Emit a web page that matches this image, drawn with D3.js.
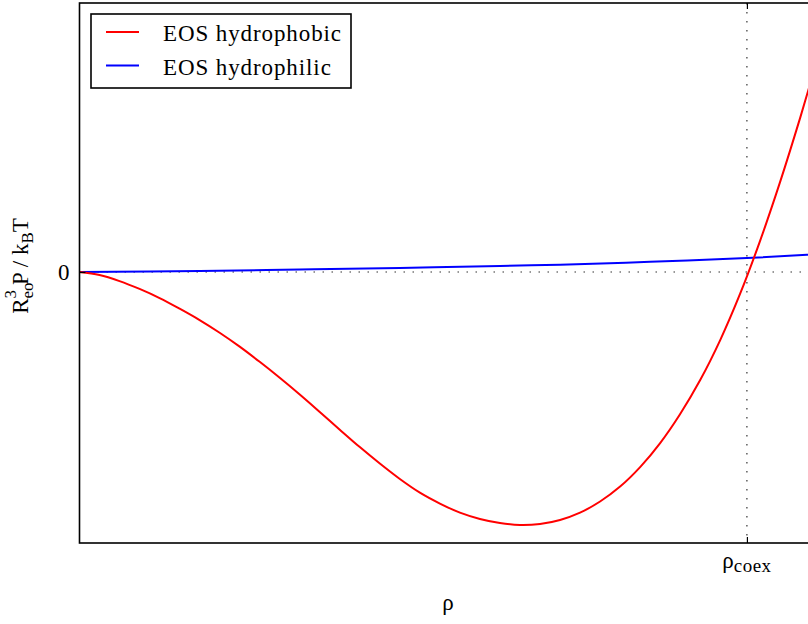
<!DOCTYPE html>
<html>
<head>
<meta charset="utf-8">
<script src="https://cdn.jsdelivr.net/npm/d3@7"></script>
<style>
  html, body { margin: 0; padding: 0; background: #fff; }
  svg { display: block; }
  text { font-family: "Liberation Serif", "DejaVu Serif", serif; fill: #000; }
</style>
</head>
<body>
<svg id="chart" width="808" height="624"></svg>
<script>
// Density in units of the coexistence density
const rhoHydrophobic = [0, 0.03, 0.06, 0.09, 0.12, 0.15, 0.18, 0.21, 0.24, 0.27, 0.30, 0.33, 0.36, 0.39,
  0.42, 0.45, 0.48, 0.51, 0.54, 0.57, 0.60, 0.63, 0.66, 0.69, 0.72, 0.75, 0.78, 0.81, 0.84, 0.87,
  0.90, 0.93, 0.96, 0.99, 1.02, 1.05, 1.08, 1.11, 1.14];
// Reduced pressure, hydrophobic equation of state
const pHydrophobic = [0, -0.012, -0.036, -0.067, -0.103, -0.145, -0.190, -0.240, -0.295, -0.355, -0.418,
  -0.484, -0.553, -0.623, -0.692, -0.757, -0.818, -0.872, -0.915, -0.951, -0.976, -0.992, -1.000,
  -0.996, -0.980, -0.951, -0.907, -0.848, -0.771, -0.676, -0.561, -0.427, -0.269, -0.085, 0.125,
  0.358, 0.611, 0.879, 1.164];

// Hydrophilic equation of state
const rhoHydrophilic = [0, 0.18, 0.33, 0.48, 0.63, 0.72, 0.855, 1.0, 1.09, 1.14];
const pHydrophilic = [0, 0.004, 0.010, 0.016, 0.024, 0.029, 0.040, 0.055, 0.068, 0.076];

const rhoCoex = 1.0;
const xTicks = [rhoCoex];
const xTickLabels = ["coex"];
const yTicks = [0];
const yTickLabels = ["0"];
const seriesNames = ["EOS hydrophobic", "EOS hydrophilic"];
const seriesColors = ["#ff0000", "#0000ff"];

const svg = d3.select("#chart");
const plotLeft = 79.5, plotRight = 827, plotTop = 3, plotBottom = 543;

const x = d3.scaleLinear().domain([0, 1.12]).range([plotLeft, plotRight]);
const y = d3.scaleLinear().domain([-1.071, 1.063]).range([plotBottom, plotTop]);

const defs = svg.append("defs");
defs.append("clipPath").attr("id", "plot-clip")
  .append("rect").attr("x", plotLeft).attr("y", plotTop)
  .attr("width", plotRight - plotLeft).attr("height", plotBottom - plotTop);

// Dotted reference lines at the coexistence density and zero pressure
const ref = svg.append("g").attr("clip-path", "url(#plot-clip)");
ref.append("line")
  .attr("x1", x(rhoCoex)).attr("x2", x(rhoCoex)).attr("y1", plotTop).attr("y2", plotBottom)
  .attr("stroke", "#333").attr("stroke-width", 1.2).attr("stroke-dasharray", "1.5,7.5");
ref.append("line")
  .attr("x1", plotLeft).attr("x2", plotRight).attr("y1", y(0)).attr("y2", y(0))
  .attr("stroke", "#333").attr("stroke-width", 1.2).attr("stroke-dasharray", "1.5,7.5");

// Curves
const line = d3.line().x(d => x(d[0])).y(d => y(d[1])).curve(d3.curveCatmullRom.alpha(0.5));
const curves = svg.append("g").attr("clip-path", "url(#plot-clip)");
curves.append("path")
  .datum(d3.zip(rhoHydrophilic, pHydrophilic))
  .attr("d", line).attr("fill", "none").attr("stroke", seriesColors[1]).attr("stroke-width", 2);
curves.append("path")
  .datum(d3.zip(rhoHydrophobic, pHydrophobic))
  .attr("d", line).attr("fill", "none").attr("stroke", seriesColors[0]).attr("stroke-width", 2);

// Axes: ticks pointing inward on all sides
const xBottom = d3.axisBottom(x).tickValues(xTicks).tickSizeInner(-6).tickSizeOuter(0).tickFormat(() => "");
const xTop = d3.axisTop(x).tickValues(xTicks).tickSizeInner(-6).tickSizeOuter(0).tickFormat(() => "");
const yLeft = d3.axisLeft(y).tickValues(yTicks).tickSizeInner(-6).tickSizeOuter(0).tickFormat(() => "");
const yRight = d3.axisRight(y).tickValues(yTicks).tickSizeInner(-6).tickSizeOuter(0).tickFormat(() => "");

function styleAxis(g) {
  g.select(".domain").remove();
  g.selectAll(".tick line").attr("stroke", "#000").attr("stroke-width", 1.2);
}
svg.append("g").attr("transform", `translate(0,${plotBottom})`).call(xBottom).call(styleAxis);
svg.append("g").attr("transform", `translate(0,${plotTop})`).call(xTop).call(styleAxis);
svg.append("g").attr("transform", `translate(${plotLeft},0)`).call(yLeft).call(styleAxis);
svg.append("g").attr("transform", `translate(${plotRight},0)`).call(yRight).call(styleAxis);

// Frame
svg.append("rect")
  .attr("x", plotLeft).attr("y", plotTop)
  .attr("width", plotRight - plotLeft).attr("height", plotBottom - plotTop)
  .attr("fill", "none").attr("stroke", "#000").attr("stroke-width", 1.6);

// Tick labels
yTicks.forEach((v, i) => {
  svg.append("text").attr("x", plotLeft - 10).attr("y", y(v)).attr("dy", "0.35em")
    .attr("text-anchor", "end").attr("font-size", 23).text(yTickLabels[i]);
});
xTicks.forEach((v, i) => {
  const t = svg.append("text").attr("x", x(v)).attr("y", 568)
    .attr("text-anchor", "middle").attr("font-size", 23);
  t.append("tspan").text("ρ");
  t.append("tspan").attr("font-size", 19).attr("dy", 4).attr("letter-spacing", 0.5).text(xTickLabels[i]);
});

// Axis titles
svg.append("text").attr("x", 448).attr("y", 610)
  .attr("text-anchor", "middle").attr("font-size", 23).text("ρ");

const yt = svg.append("text")
  .attr("transform", `translate(28,${y(0) - 6}) rotate(-90)`)
  .attr("text-anchor", "middle").attr("font-size", 23);
yt.append("tspan").text("R");
yt.append("tspan").attr("font-size", 17).attr("dy", 5).text("eo");
yt.append("tspan").attr("font-size", 17).attr("dx", -16).attr("dy", -17).text("3");
yt.append("tspan").attr("dx", 5).attr("dy", 12).text("P / k");
yt.append("tspan").attr("font-size", 17).attr("dy", 5).text("B");
yt.append("tspan").attr("dy", -5).text("T");

// Legend
const legend = svg.append("g");
legend.append("rect").attr("x", 91).attr("y", 14).attr("width", 260).attr("height", 74)
  .attr("fill", "#fff").attr("stroke", "#000").attr("stroke-width", 1.6);
seriesNames.forEach((name, i) => {
  const cy = 32 + i * 33.5;
  legend.append("line").attr("x1", 106).attr("x2", 139).attr("y1", cy).attr("y2", cy)
    .attr("stroke", seriesColors[i]).attr("stroke-width", 2);
  legend.append("text").attr("x", 163).attr("y", cy + 9)
    .attr("font-size", 23).attr("letter-spacing", 0.9).text(name);
});
</script>
</body>
</html>
